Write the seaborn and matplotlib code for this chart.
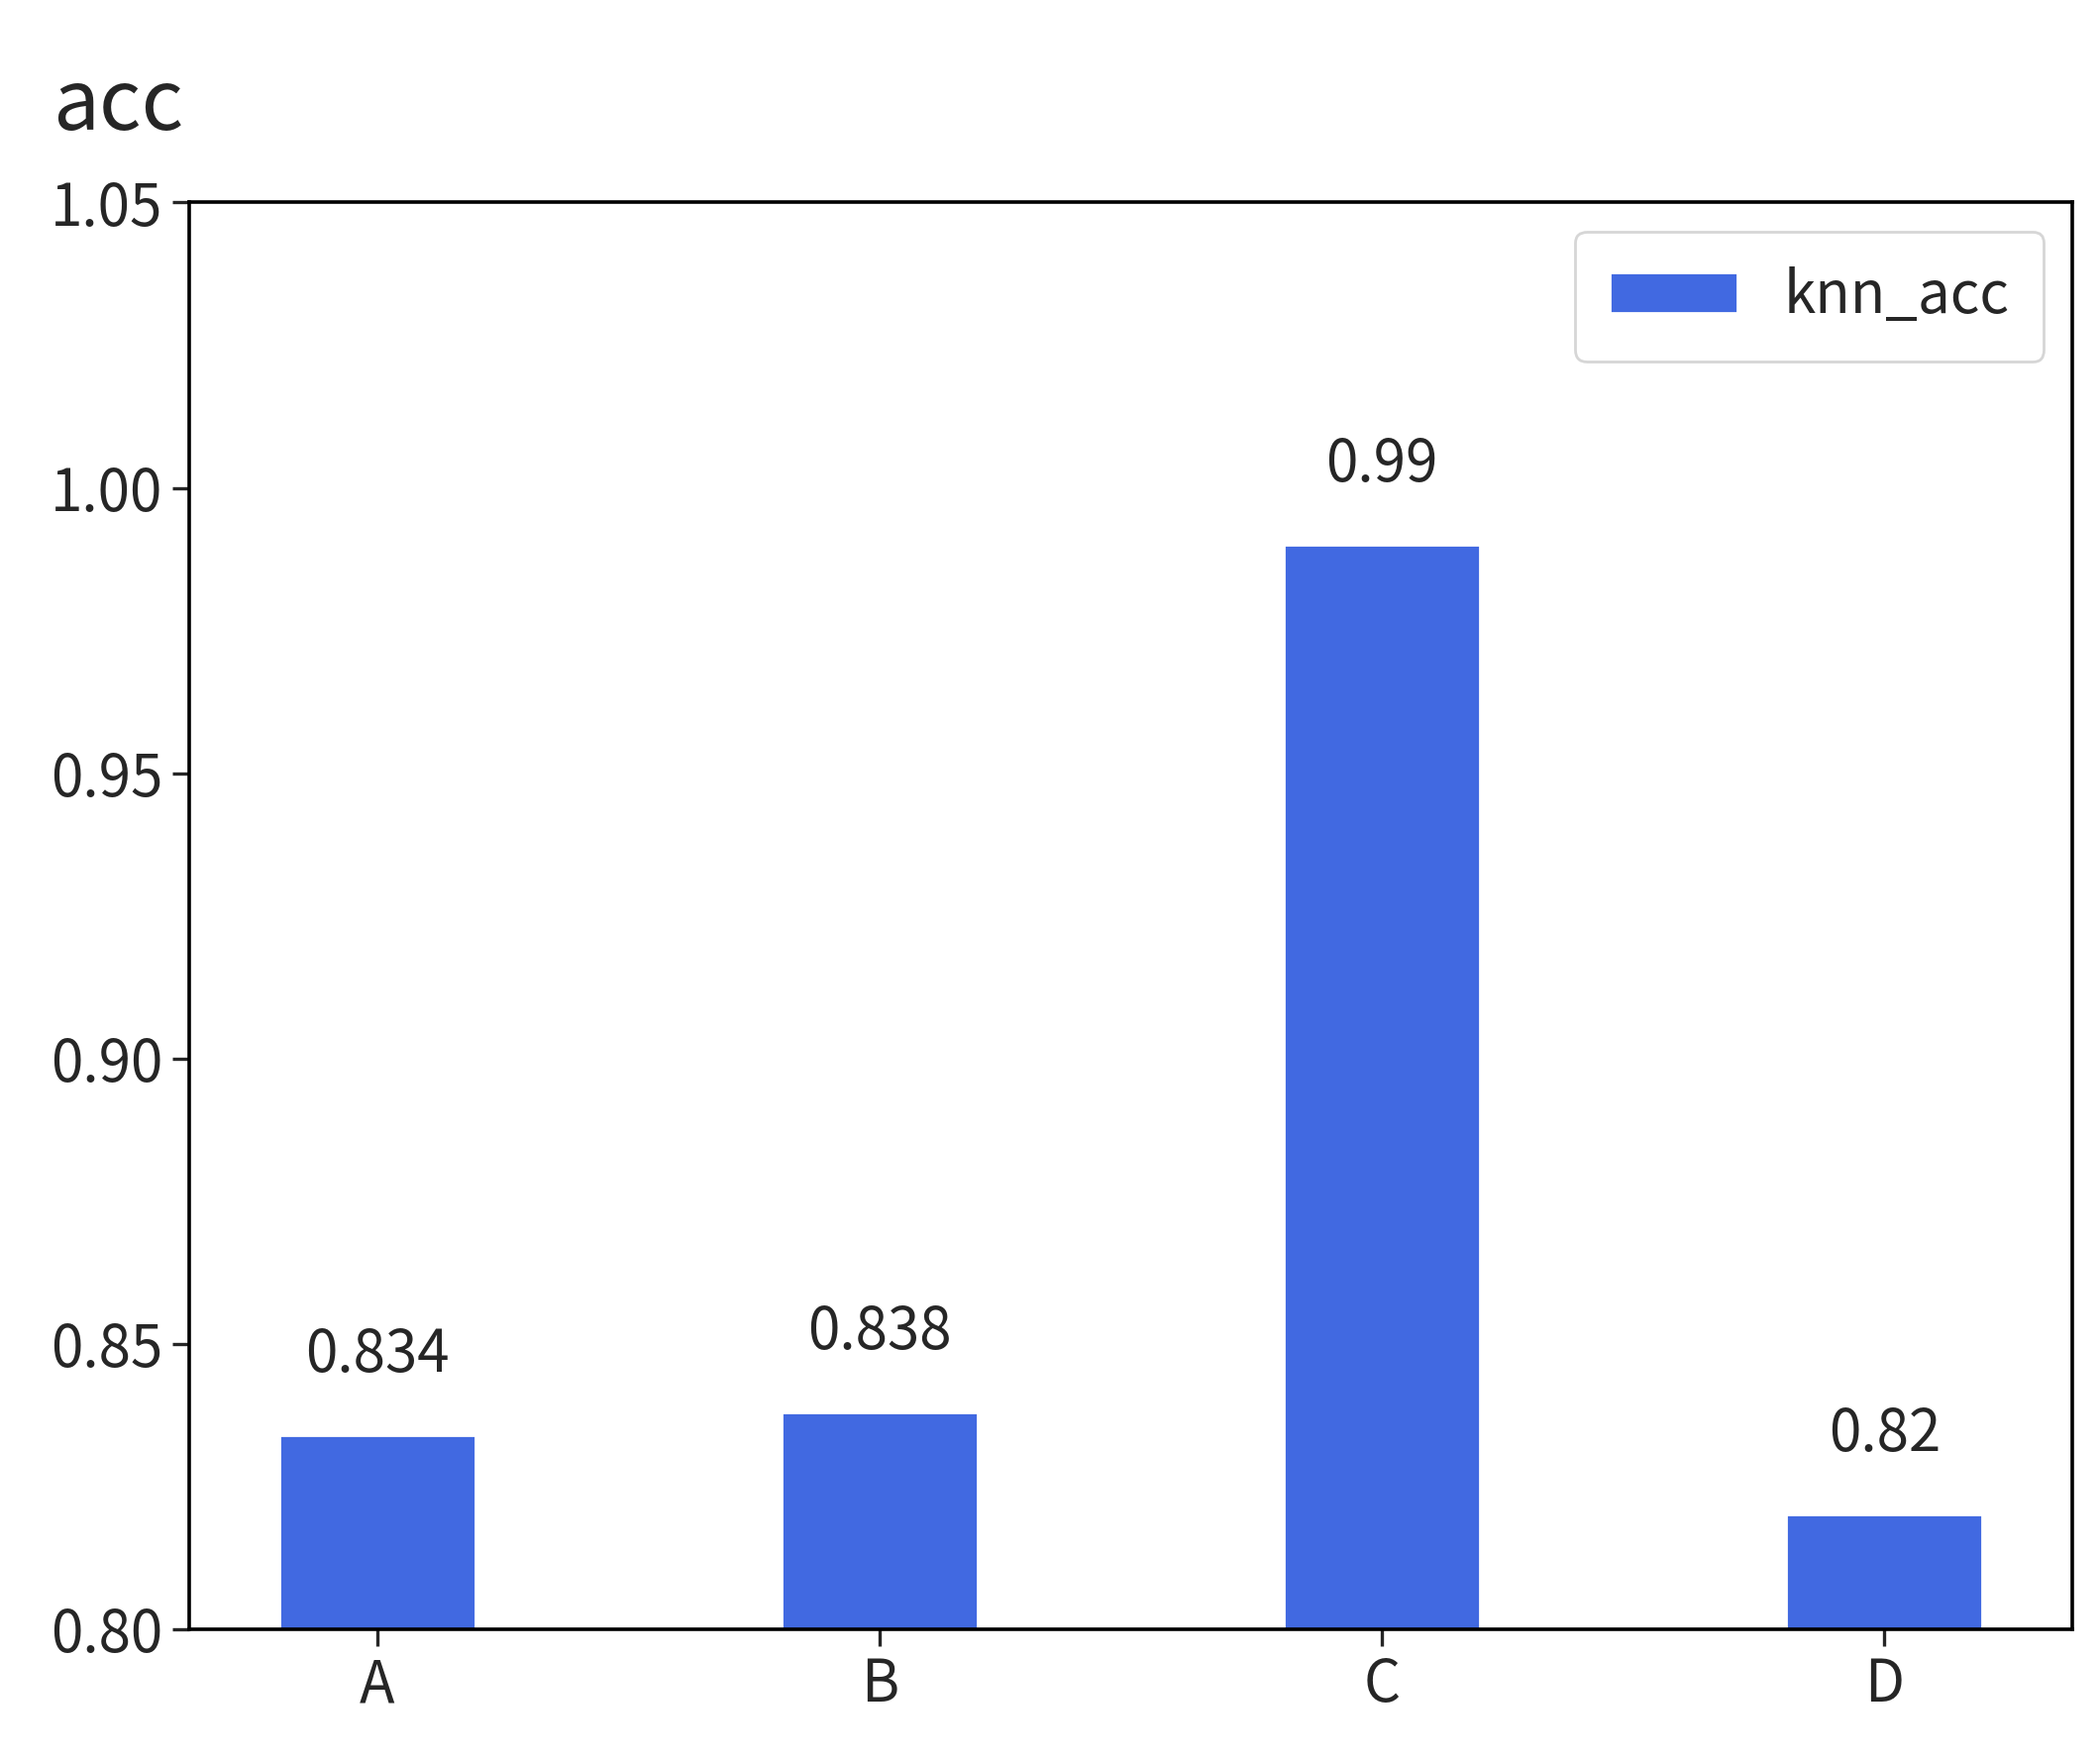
import matplotlib
matplotlib.use("Agg")
import matplotlib.pyplot as plt
import seaborn as sns
import pandas as pd

categories = ["A", "B", "C", "D"]
knn_acc = [0.834, 0.838, 0.99, 0.82]
value_labels = ["0.834", "0.838", "0.99", "0.82"]

sns.set_style("white")
plt.rcParams["font.family"] = ["Noto Sans CJK SC", "DejaVu Sans"]

df = pd.DataFrame({"model": categories, "acc": knn_acc})

fig = plt.figure(figsize=(10.6, 8.89), dpi=200)
ax = fig.add_axes([0.09, 0.075, 0.897, 0.81])
sns.barplot(data=df, x="model", y="acc", color="#4169E1", saturation=1,
            width=0.39, label="knn_acc", ax=ax)
ax.bar_label(ax.containers[0], labels=value_labels, padding=18, fontsize=21)

ax.set_ylim(0.80, 1.05)
ax.set_xlim(-0.375, 3.375)
ax.set_yticks([0.80, 0.85, 0.90, 0.95, 1.00, 1.05])
ax.set_yticklabels(["0.80", "0.85", "0.90", "0.95", "1.00", "1.05"])
ax.set_xlabel("")
ax.set_ylabel("")
ax.tick_params(axis="both", labelsize=21, length=6, width=1.2, left=True, bottom=True)
for s in ax.spines.values():
    s.set_linewidth(1.3)
    s.set_color("black")
ax.legend(loc="upper right", fontsize=21, handlelength=2.2, borderpad=0.6)

fig.text(0.025, 0.94, "acc", fontsize=30, ha="left", va="center")
fig.savefig("out.png", dpi=200)
